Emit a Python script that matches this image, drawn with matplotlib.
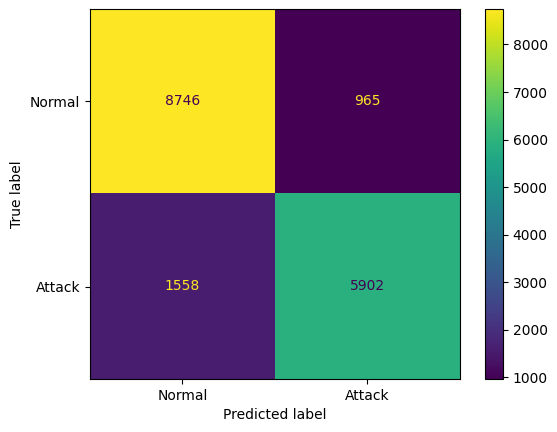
import matplotlib.pyplot as plt
import numpy as np

labels = ['Normal', 'Attack']
cm = np.array([[8746, 965],
               [1558, 5902]])

fig = plt.figure(figsize=(5.57, 4.32), dpi=100)
ax = fig.add_axes([90/557, 53/432, 369.5/557, 370/432])
cax = fig.add_axes([484.5/557, 53/432, 18.5/557, 370/432])

cmap = plt.get_cmap('viridis')
im = ax.imshow(cm, interpolation='nearest', cmap=cmap, aspect='auto')
fig.colorbar(im, cax=cax)

# 값 표시 (밝은 칸은 어두운 글씨, 어두운 칸은 밝은 글씨)
thresh = (cm.max() + cm.min()) / 2.0
for i in range(cm.shape[0]):
    for j in range(cm.shape[1]):
        color = cmap(0.0) if cm[i, j] > thresh else cmap(1.0)
        ax.text(j, i, format(cm[i, j], 'd'), ha='center', va='center', color=color)

ax.set_xticks(np.arange(len(labels)))
ax.set_yticks(np.arange(len(labels)))
ax.set_xticklabels(labels)
ax.set_yticklabels(labels)
ax.set_xlabel('Predicted label')
ax.set_ylabel('True label')
ax.set_ylim(len(labels) - 0.5, -0.5)

plt.savefig('out.png', dpi=100)
